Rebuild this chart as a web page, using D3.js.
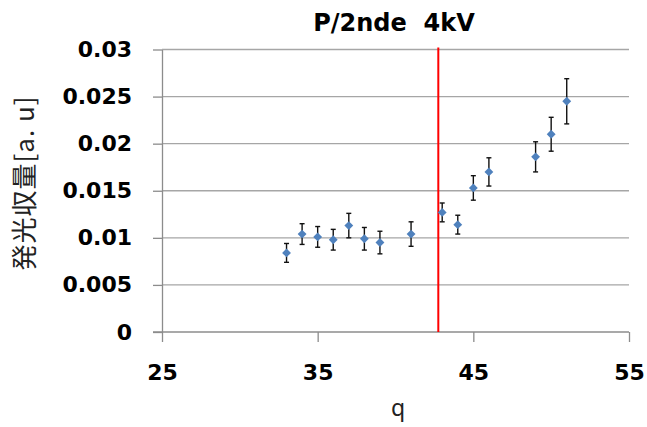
<!DOCTYPE html>
<html>
<head>
<meta charset="utf-8">
<script src="https://cdn.jsdelivr.net/npm/d3@7"></script>
<style>
  body { margin: 0; background: #fff; }
  svg { display: block; }
</style>
</head>
<body>
<script>
// data
var qValues = [33, 34, 35, 36, 37, 38, 39, 41, 43, 44, 45, 46, 49, 50, 51];
var yieldValues = [0.0084, 0.0104, 0.0101, 0.0098, 0.0113, 0.0099, 0.0095, 0.0104, 0.0127, 0.0114, 0.0153, 0.0170, 0.0186, 0.0210, 0.0245];
var yieldErrors = [0.0010, 0.0011, 0.0011, 0.0011, 0.0013, 0.0012, 0.0012, 0.0013, 0.0010, 0.0010, 0.0013, 0.0015, 0.0016, 0.0018, 0.0024];
var xTicks = [25, 35, 45, 55];
var yTicks = [0, 0.005, 0.01, 0.015, 0.02, 0.025, 0.03];
var markerQ = 42.75; // red vertical line
var chartTitle = "P/2nde  4kV";
var xTitle = "q";
var yTitle = "発光収量[a. u]";

var width = 647, height = 427;
var plotLeft = 162, plotRight = 629, plotTop = 49.5, plotBottom = 332;

var x = d3.scaleLinear().domain([25, 55]).range([plotLeft, plotRight]);
var y = d3.scaleLinear().domain([0, 0.03]).range([plotBottom, plotTop]);

var svg = d3.select("body").append("svg")
    .attr("width", width)
    .attr("height", height);

// gridlines
svg.append("g").selectAll("line")
    .data(yTicks.slice(1))
  .enter().append("line")
    .attr("x1", plotLeft).attr("x2", plotRight)
    .attr("y1", function(d) { return y(d); })
    .attr("y2", function(d) { return y(d); })
    .attr("stroke", "#a6a6a6")
    .attr("stroke-width", 1.3);

// y axis
var yAxis = svg.append("g")
    .attr("transform", "translate(" + plotLeft + ",0)")
    .call(d3.axisLeft(y).tickValues(yTicks).tickSize(9).tickSizeOuter(0).tickPadding(21)
        .tickFormat(function(d) { return String(d); }));

// x axis
var xAxis = svg.append("g")
    .attr("transform", "translate(0," + plotBottom + ")")
    .call(d3.axisBottom(x).tickValues(xTicks).tickSize(10).tickSizeOuter(0).tickPadding(22));

[yAxis, xAxis].forEach(function(ax) {
  ax.select(".domain").attr("stroke", "#8c8c8c").attr("stroke-width", 1.3);
  ax.selectAll(".tick line").attr("stroke", "#8c8c8c").attr("stroke-width", 1.3);
  ax.selectAll(".tick text")
      .attr("fill", "#000")
      .style("font-family", "'DejaVu Sans', sans-serif")
      .style("font-weight", "bold")
      .style("font-size", "22px");
});
// x axis line reaches past the y axis
xAxis.select(".domain").attr("d", "M" + (plotLeft - 9) + ",0H" + plotRight);

// red line
svg.append("line")
    .attr("x1", x(markerQ)).attr("x2", x(markerQ))
    .attr("y1", plotTop - 2).attr("y2", plotBottom)
    .attr("stroke", "#ff0000")
    .attr("stroke-width", 2);

// error bars
var err = svg.append("g").selectAll("g")
    .data(qValues)
  .enter().append("g");

err.append("line")
    .attr("x1", function(d) { return x(d); })
    .attr("x2", function(d) { return x(d); })
    .attr("y1", function(d, i) { return y(yieldValues[i] + yieldErrors[i]); })
    .attr("y2", function(d, i) { return y(yieldValues[i] - yieldErrors[i]); })
    .attr("stroke", "#111").attr("stroke-width", 1.4);

[1, -1].forEach(function(s) {
  err.append("line")
      .attr("x1", function(d) { return x(d) - 2.5; })
      .attr("x2", function(d) { return x(d) + 2.5; })
      .attr("y1", function(d, i) { return y(yieldValues[i] + s * yieldErrors[i]); })
      .attr("y2", function(d, i) { return y(yieldValues[i] + s * yieldErrors[i]); })
      .attr("stroke", "#111").attr("stroke-width", 1.4);
});

// diamond markers
svg.append("g").selectAll("path")
    .data(qValues)
  .enter().append("path")
    .attr("d", d3.symbol().type(d3.symbolDiamond2).size(50))
    .attr("transform", function(d, i) { return "translate(" + x(d) + "," + y(yieldValues[i]) + ")"; })
    .attr("fill", "#4f81bd");

// titles
svg.append("text")
    .attr("x", 394).attr("y", 31)
    .attr("text-anchor", "middle")
    .style("white-space", "pre")
    .style("font-family", "'DejaVu Sans', sans-serif")
    .style("font-weight", "bold")
    .style("font-size", "24px")
    .text(chartTitle);

svg.append("text")
    .attr("x", 398).attr("y", 416)
    .attr("text-anchor", "middle")
    .attr("fill", "#222")
    .style("font-family", "'Noto Sans', sans-serif")
    .style("font-size", "23px")
    .text(xTitle);

svg.append("text")
    .attr("transform", "translate(34,183) rotate(-90)")
    .attr("text-anchor", "middle")
    .attr("fill", "#222")
    .style("white-space", "pre")
    .style("letter-spacing", "1px")
    .style("font-family", "'Noto Sans CJK JP', sans-serif")
    .style("font-size", "26px")
    .text(yTitle);
</script>
</body>
</html>
